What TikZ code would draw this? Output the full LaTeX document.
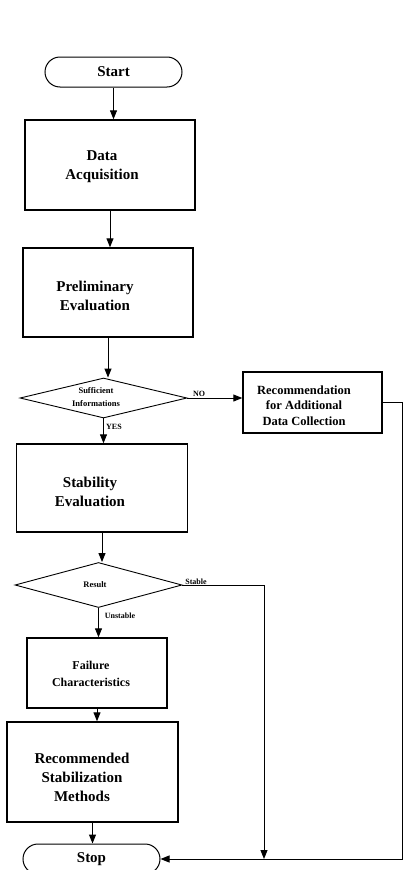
\documentclass[tikz,border=0pt]{standalone}
\usepackage{fontspec}
\setmainfont{Liberation Serif}
\usetikzlibrary{shapes.geometric,shapes.misc,arrows.meta}
\begin{document}
\begin{tikzpicture}[x=1pt,y=-1pt,
  box/.style={draw, line width=1.4pt, inner sep=0pt},
  term/.style={draw, rounded rectangle, line width=1pt, inner sep=0pt, font=\bfseries\fontsize{15}{18}\selectfont},
  dec/.style={draw, diamond, line width=0.9pt, inner sep=0pt},
  txt/.style={font=\bfseries\fontsize{15}{19}\selectfont, align=center, inner sep=0pt},
  rtxt/.style={font=\bfseries\fontsize{12.5}{15.5}\selectfont, align=center, inner sep=0pt},
  ftxt/.style={font=\bfseries\fontsize{12}{17}\selectfont, align=center, inner sep=0pt},
  dtxt/.style={font=\bfseries\fontsize{8.5}{13}\selectfont, align=center, inner sep=0pt},
  lbl/.style={font=\bfseries\fontsize{8}{10}\selectfont, inner sep=0pt},
  arr/.style={-{Triangle[length=9pt,width=7pt]}, line width=1pt},
  ln/.style={line width=1pt}]
\useasboundingbox (0,0) rectangle (406,870);
\fill[white] (0,0) rectangle (406,870);

% nodes
\node[term, minimum width=137pt, minimum height=30pt] (start) at (113.5,72) {Start};
\node[box, minimum width=170pt, minimum height=90pt] (da) at (110,165) {};
\node[txt] (datxt) at (102,167) {Data\\Acquisition};
\node[box, minimum width=170pt, minimum height=89pt] (pe) at (108,292.5) {};
\node[txt] (petxt) at (95,296) {Preliminary\\Evaluation};
\node[dec, minimum width=167pt, minimum height=40pt] (d1) at (103.5,398) {};
\node[dtxt] (d1txt) at (96,397) {Sufficient\\Informations};
\node[box, minimum width=139pt, minimum height=61pt] (rec) at (312.5,402.5) {};
\node[rtxt] (rectxt) at (304,405.5) {Recommendation\\for Additional\\Data Collection};
\node[box, minimum width=171pt, minimum height=88pt] (se) at (102,488) {};
\node[txt] (setxt) at (90,492) {Stability\\Evaluation};
\node[dec, minimum width=167pt, minimum height=45pt] (d2) at (98.5,585) {};
\node[dtxt] (d2txt) at (95,585) {Result};
\node[box, minimum width=140pt, minimum height=70pt] (fc) at (97,673) {};
\node[ftxt] (fctxt) at (91,673.5) {Failure\\Characteristics};
\node[box, minimum width=171pt, minimum height=100pt] (rsm) at (92.5,772) {};
\node[txt] (rsmtxt) at (82,777) {Recommended\\Stabilization\\Methods};
\node[term, minimum width=137pt, minimum height=30pt] (stop) at (91.5,859) {Stop};

% connectors
\draw[arr] (start.south) -- (start.south |- da.north);
\draw[arr] (da.south) -- (da.south |- pe.north);
\draw[arr] (pe.south) -- (pe.south |- d1.north);
\draw[arr] (d1.south) -- (d1.south |- se.north);
\draw[arr] (d1.east) -- (d1.east -| rec.west);
\draw[arr] (se.south) -- (se.south |- d2.north);
\draw[arr] (d2.south) -- (d2.south |- fc.north);
\draw[arr] (fc.south) -- (fc.south |- rsm.north);
\draw[arr] (rsm.south) -- (rsm.south |- stop.north);

\coordinate (sj) at (264,859);
\draw[arr] (d2.east) -| (sj);
\draw[arr] (rec.east) -- ++(20,0) |- (stop.east);

% labels
\node[lbl] (no) at (199,394) {NO};
\node[lbl] (yes) at (114,427) {YES};
\node[lbl] (stable) at (196,582) {Stable};
\node[lbl] (unstable) at (120,616) {Unstable};
\end{tikzpicture}
\end{document}
